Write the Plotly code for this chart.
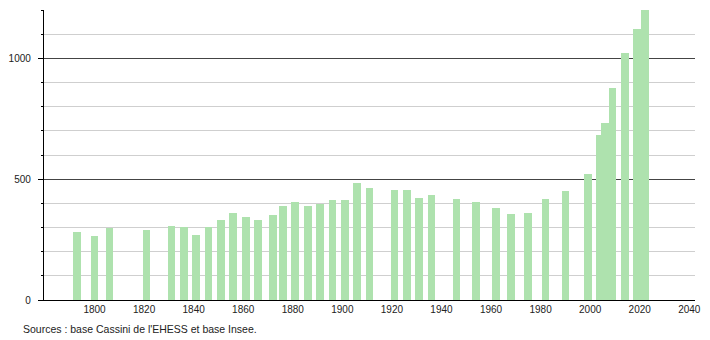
import plotly.graph_objects as go

years = [1793, 1800, 1806, 1821, 1831, 1836, 1841, 1846, 1851, 1856, 1861, 1866,
         1872, 1876, 1881, 1886, 1891, 1896, 1901, 1906, 1911, 1921, 1926, 1931,
         1936, 1946, 1954, 1962, 1968, 1975, 1982, 1990, 1999, 2004, 2006, 2009,
         2014, 2019, 2022]
population = [283, 266, 297, 290, 306, 302, 268, 302, 333, 359, 344, 331,
              352, 390, 407, 387, 397, 414, 414, 485, 465, 454, 455, 423,
              433, 418, 407, 380, 355, 359, 416, 451, 521, 683, 731, 878,
              1022, 1121, 1200]
x_ticks = [1800, 1820, 1840, 1860, 1880, 1900, 1920, 1940, 1960, 1980, 2000, 2020, 2040]
y_ticks = [0, 500, 1000]
source_text = "Sources : base Cassini de l'EHESS et base Insee."

fig = go.Figure()
fig.add_trace(go.Bar(
    x=years, y=population, width=3.1,
    marker=dict(color="rgb(174,226,174)", line=dict(width=0)),
    hoverinfo="x+y",
))

font = dict(family="Liberation Sans, Arial, sans-serif", size=10, color="#222")

fig.update_layout(
    width=710, height=340,
    margin=dict(l=44, r=9, t=10, b=40),
    paper_bgcolor="white", plot_bgcolor="white",
    showlegend=False, bargap=0,
    font=font,
    xaxis=dict(
        range=[1779.6, 2042.3],
        tickmode="array", tickvals=x_ticks, ticktext=[str(v) for v in x_ticks],
        showgrid=False, zeroline=False,
        showline=True, linecolor="black", linewidth=1.3,
        ticks="", tickfont=font,
    ),
    yaxis=dict(
        range=[0, 1200],
        tickmode="array", tickvals=y_ticks, ticktext=[str(v) for v in y_ticks],
        showgrid=True, gridcolor="#444", gridwidth=1,
        zeroline=False,
        showline=True, linecolor="black", linewidth=1.3,
        ticks="outside", ticklen=5, tickcolor="black", tickwidth=1,
        ticklabelstandoff=5,
        tickfont=font,
        minor=dict(dtick=100, tick0=0, showgrid=True, gridcolor="#cfcfcf", gridwidth=1,
                   ticks="outside", ticklen=2, tickcolor="black"),
    ),
)

fig.add_annotation(
    text=source_text, xref="paper", yref="paper",
    x=(20.5 - 44) / 657, y=(300 - 329) / 290,
    xanchor="left", yanchor="middle", showarrow=False,
    font=dict(family="Liberation Sans, Arial, sans-serif", size=10.5, color="#222"),
)

fig.write_html("out.html")
